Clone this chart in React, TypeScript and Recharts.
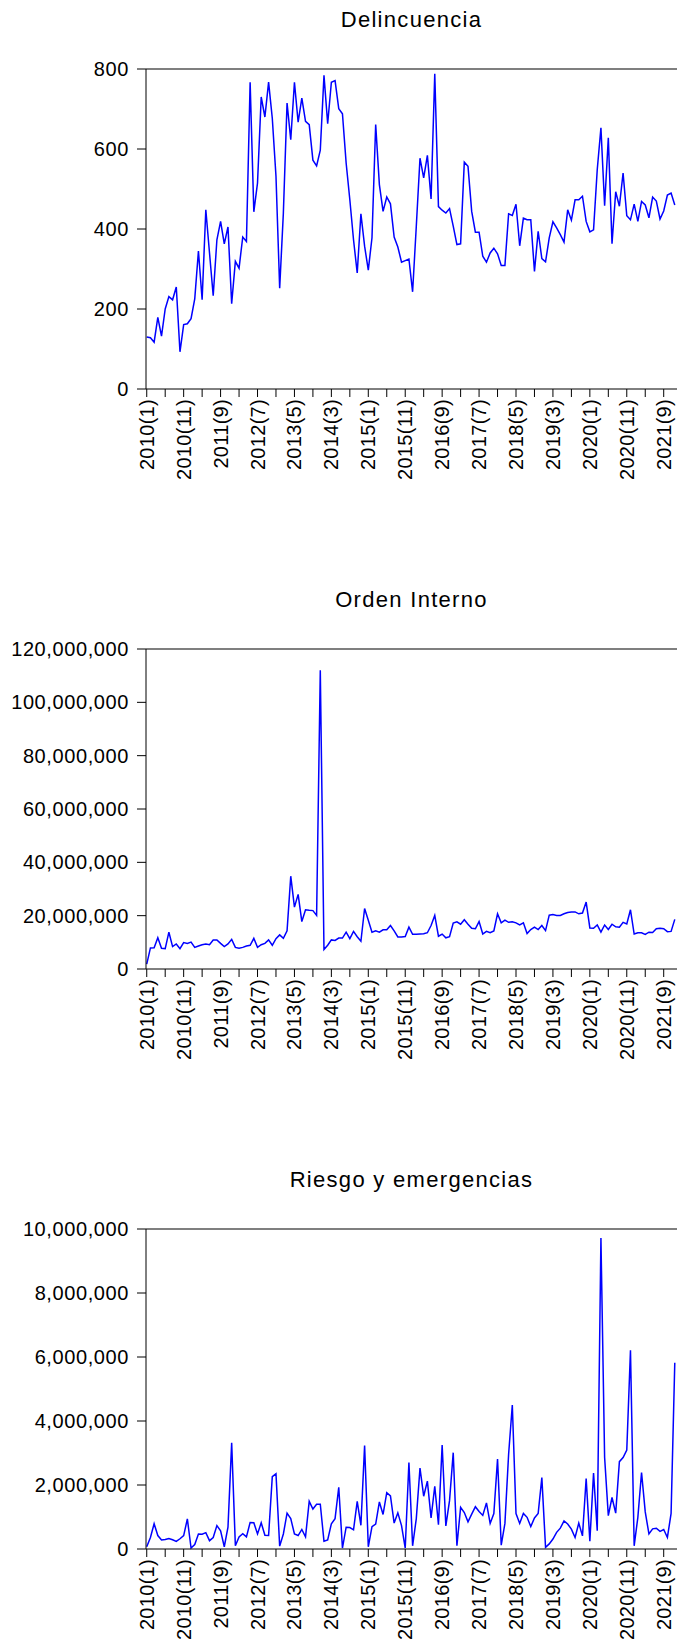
import React from 'react';
import { LineChart, Line, XAxis, YAxis, ReferenceLine } from 'recharts';

// tick labels every 10 months, starting 2010(1)
const tickLabels = [
  '2010(1)', '2010(11)', '2011(9)', '2012(7)', '2013(5)', '2014(3)', '2015(1)', '2015(11)',
  '2016(9)', '2017(7)', '2018(5)', '2019(3)', '2020(1)', '2020(11)', '2021(9)',
];

// monthly series, 2010(1) .. 2021(12)
const delincuencia = [
  130, 128, 117, 179, 132, 200, 231, 223, 255, 93,
  161, 163, 176, 225, 345, 223, 448, 340, 233, 373,
  419, 363, 405, 213, 319, 302, 380, 369, 767, 443,
  515, 730, 680, 767, 677, 532, 252, 440, 715, 623,
  767, 667, 727, 669, 661, 572, 558, 597, 784, 663,
  767, 771, 701, 688, 565, 473, 373, 290, 438, 357,
  297, 378, 661, 511, 444, 480, 463, 380, 355, 317,
  321, 325, 243, 407, 577, 528, 584, 475, 788, 456,
  447, 440, 451, 407, 361, 363, 567, 557, 444, 392,
  392, 332, 317, 340, 352, 338, 309, 309, 438, 434,
  462, 358, 427, 423, 423, 294, 394, 326, 318, 378,
  418, 403, 386, 367, 448, 422, 473, 473, 482, 419,
  393, 398, 548, 653, 458, 628, 363, 493, 457, 540,
  433, 423, 462, 419, 469, 460, 428, 480, 470, 425,
  445, 485, 490, 460,
];

// millions
const ordenInterno = [
  1.85, 7.9, 8.0, 11.7, 7.8, 7.65, 13.8, 8.4, 9.4, 7.65,
  9.9, 9.6, 10.1, 8.1, 8.6, 9.1, 9.4, 9.1, 10.9, 10.9,
  9.6, 8.4, 9.4, 11.1, 8.1, 7.8, 8.1, 8.6, 8.9, 11.5,
  8.1, 9.1, 9.6, 10.9, 8.9, 11.4, 12.8, 11.5, 14.3, 34.8,
  23.2, 28, 17.8, 22.2, 22, 21.9, 20.1, 112, 7.3, 8.9,
  10.9, 10.7, 11.6, 11.6, 13.8, 11.4, 14.1, 12.1, 10.4, 22.7,
  18.3, 13.8, 14.3, 13.8, 14.7, 14.7, 16.3, 14.3, 12.0, 12.0,
  12.2, 15.7, 13.0, 13.0, 13.1, 13.2, 13.6, 16.3, 20.1, 12.3,
  13.1, 11.7, 12.1, 17.2, 17.7, 16.8, 18.5, 16.8, 15.3, 15.1,
  17.8, 13.1, 14.1, 13.6, 14.3, 20.7, 17.3, 18.3, 17.5, 17.7,
  17.3, 16.5, 17.3, 13.3, 14.8, 15.7, 14.8, 16.3, 14.4, 20.2,
  20.4, 20.1, 20.1, 20.7, 21.2, 21.4, 21.4, 20.7, 21.0, 25.1,
  15.4, 15.3, 16.5, 13.8, 16.5, 14.8, 16.8, 15.8, 15.7, 17.5,
  16.9, 22.2, 13.1, 13.6, 13.6, 13.0, 13.8, 13.7, 15.1, 15.3,
  15.1, 14.0, 14.1, 18.6,
];

// millions
const riesgo = [
  0.07, 0.36, 0.79, 0.42, 0.28, 0.30, 0.33, 0.29, 0.24, 0.32,
  0.42, 0.94, 0.03, 0.14, 0.47, 0.46, 0.51, 0.26, 0.36, 0.73,
  0.57, 0.07, 0.68, 3.32, 0.10, 0.38, 0.48, 0.38, 0.83, 0.82,
  0.47, 0.82, 0.43, 0.42, 2.26, 2.35, 0.09, 0.47, 1.12, 0.95,
  0.47, 0.42, 0.61, 0.38, 1.49, 1.25, 1.40, 1.40, 0.24, 0.28,
  0.79, 0.95, 1.93, 0.03, 0.68, 0.67, 0.60, 1.49, 0.74, 3.23,
  0.07, 0.70, 0.78, 1.47, 1.08, 1.76, 1.66, 0.81, 1.13, 0.73,
  0.03, 2.70, 0.10, 0.95, 2.53, 1.65, 2.12, 0.97, 1.96, 0.76,
  3.25, 0.72, 1.51, 3.01, 0.10, 1.30, 1.14, 0.85, 1.09, 1.32,
  1.17, 1.05, 1.44, 0.80, 1.11, 2.81, 0.12, 0.80, 2.96, 4.50,
  1.11, 0.80, 1.11, 0.99, 0.70, 0.97, 1.11, 2.23, 0.05, 0.16,
  0.31, 0.52, 0.65, 0.88, 0.78, 0.62, 0.36, 0.81, 0.41, 2.20,
  0.24, 2.37, 0.57, 9.72, 2.86, 1.04, 1.61, 1.12, 2.73, 2.86,
  3.09, 6.21, 0.10, 0.99, 2.39, 1.16, 0.47, 0.63, 0.65, 0.55,
  0.61, 0.36, 1.11, 5.82,
];

const delincuenciaTicks = [0, 200, 400, 600, 800];
const ordenTicks = [0, 20000000, 40000000, 60000000, 80000000, 100000000, 120000000];
const riesgoTicks = [0, 2000000, 4000000, 6000000, 8000000, 10000000];

const FONT = '"Liberation Sans", Arial, sans-serif';
const xTicks = Array.from({ length: 29 }, (_, k) => k * 5);

const toRows = (vals: number[], scale: number) => vals.map((v, i) => ({ i, v: v * scale }));

const XTick = (props: any) => {
  const { x, y, payload } = props;
  const idx = payload.value;
  if (idx % 10 !== 0) return null;
  const label = tickLabels[idx / 10];
  return (
    <text
      x={x}
      y={y}
      transform={`rotate(-90, ${x}, ${y})`}
      textAnchor="end"
      dy="0.35em"
      fontSize={20}
      letterSpacing={0.3}
      fontFamily={FONT}
      fill="#000"
    >
      {label}
    </text>
  );
};

const fmt = (v: number) => v.toLocaleString('en-US');

function Panel({ title, rows, ticks, height }: { title: string; rows: any[]; ticks: number[]; height: number }) {
  const top = ticks[ticks.length - 1];
  return (
    <div style={{ position: 'relative', width: 669, height }}>
      <div
        style={{
          position: 'absolute',
          left: 138,
          width: 531,
          top: 0,
          lineHeight: '24px',
          textAlign: 'center',
          fontFamily: FONT,
          fontSize: 22,
          letterSpacing: 1.3,
          color: '#000',
        }}
      >
        {title}
      </div>
      <LineChart width={669} height={height} data={rows} margin={{ top: 61, right: 0, bottom: 0, left: 38 }}>
        <XAxis
          type="number"
          dataKey="i"
          domain={[-0.2, 143.6]}
          allowDataOverflow
          ticks={xTicks}
          interval={0}
          tick={<XTick />}
          tickSize={8}
          tickMargin={2}
          height={height - 61 - 320}
          axisLine={{ stroke: '#000' }}
          tickLine={{ stroke: '#000' }}
        />
        <YAxis
          type="number"
          domain={[0, top]}
          ticks={ticks}
          interval={0}
          width={100}
          tickSize={9}
          tickMargin={8}
          tickFormatter={fmt}
          tick={{ fontSize: 20, fontFamily: FONT, fill: '#000', letterSpacing: 0.6 }}
          axisLine={{ stroke: '#000' }}
          tickLine={{ stroke: '#000' }}
        />
        <ReferenceLine y={top} stroke="#000" strokeWidth={1.2} />
        <Line
          type="linear"
          dataKey="v"
          stroke="#0000ff"
          strokeWidth={1.5}
          dot={false}
          isAnimationActive={false}
        />
      </LineChart>
    </div>
  );
}

export default function App() {
  return (
    <div style={{ width: 669, height: 1634, overflow: 'hidden' }}>
      <style>{'html,body{overflow:hidden} body{margin:8px 0 0 8px}'}</style>
      <Panel title="Delincuencia" rows={toRows(delincuencia, 1)} ticks={delincuenciaTicks} height={580} />
      <Panel title="Orden Interno" rows={toRows(ordenInterno, 1000000)} ticks={ordenTicks} height={580} />
      <Panel title="Riesgo y emergencias" rows={toRows(riesgo, 1000000)} ticks={riesgoTicks} height={474} />
    </div>
  );
}
